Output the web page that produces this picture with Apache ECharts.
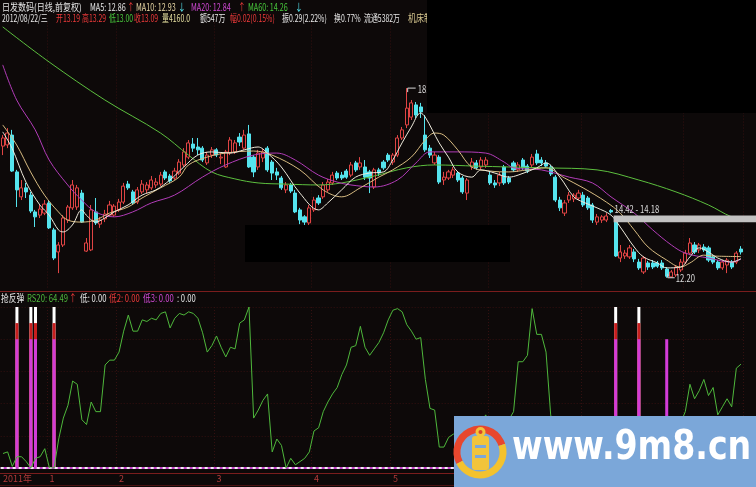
<!DOCTYPE html>
<html><head><meta charset="utf-8">
<script src="https://cdn.jsdelivr.net/npm/echarts@6/dist/echarts.min.js"></script>
<style>html,body{margin:0;padding:0;background:#0d0909;overflow:hidden}#c{width:756px;height:487px}</style>
</head><body><div id="c"></div>
<script>
// ---- candles: [open, close, low, high] ----
const candles = [
[16.74,17.02,16.43,17.12],[16.78,17.19,16.67,17.36],[17.12,15.88,15.85,17.30],[15.85,15.23,14.64,15.92],[14.99,15.30,14.88,15.57],
[15.30,15.16,14.95,15.47],[15.05,14.50,14.43,15.16],[14.47,14.30,13.95,14.54],[14.36,14.57,14.26,14.71],[14.43,14.74,14.36,14.88],
[14.78,13.92,13.88,14.88],[13.85,12.88,12.81,13.92],[13.09,13.33,12.36,13.43],[13.33,14.26,13.26,14.36],[14.19,14.64,14.09,14.71],
[14.61,15.40,14.54,15.57],[14.64,15.30,14.54,15.40],[15.12,14.12,14.09,15.23],[13.12,13.40,13.09,13.57],[13.16,14.54,13.12,14.71],
[14.47,14.09,14.02,14.95],[14.05,14.19,13.92,14.30],[14.23,14.40,14.12,14.54],[14.36,14.71,14.30,14.85],[14.36,14.67,14.30,14.74],
[14.54,14.81,14.47,14.92],[14.81,15.36,14.74,15.47],[15.43,15.30,15.23,15.54],[15.16,14.78,14.71,15.23],[14.81,15.23,14.74,15.33],
[15.16,15.43,15.09,15.57],[15.23,15.40,15.12,15.50],[15.30,15.57,15.23,15.71],[15.40,15.50,15.30,15.64],[15.43,15.74,15.36,15.85],
[15.85,15.64,15.57,15.92],[15.71,15.54,15.47,15.78],[15.64,15.88,15.57,15.99],[15.81,16.19,15.74,16.29],[16.09,16.54,16.02,16.67],
[16.36,16.85,16.29,16.95],[16.81,16.67,16.54,17.02],[16.71,16.61,16.43,17.02],[16.67,16.26,16.19,16.74],[16.16,16.43,16.09,16.54],
[16.43,16.61,16.33,16.71],[16.61,16.43,16.36,16.67],[16.33,16.36,16.12,16.50],[16.02,16.54,15.99,16.61],[16.50,16.95,16.43,17.05],
[16.54,16.85,16.47,16.95],[17.05,16.88,16.74,17.19],[16.67,17.12,16.61,17.30],[17.16,16.02,15.99,17.47],[16.36,15.85,15.67,16.43],
[16.02,16.50,15.92,16.61],[16.33,16.54,16.19,16.64],[16.67,15.92,15.85,16.74],[16.19,15.81,15.57,16.26],[15.85,15.74,15.57,15.99],
[15.64,15.30,15.23,15.71],[15.23,15.40,15.12,15.50],[15.40,15.19,15.12,15.47],[15.12,14.47,14.43,15.23],[14.54,14.19,14.05,14.61],
[14.30,14.12,14.02,14.36],[14.09,14.61,13.99,14.71],[14.54,14.88,14.47,14.99],[14.95,14.78,14.71,15.05],[14.99,15.40,14.92,15.50],
[15.23,15.50,15.16,15.61],[15.47,15.74,15.40,15.85],[15.81,15.64,15.57,15.88],[15.74,15.64,15.57,15.85],[15.88,15.67,15.61,15.95],
[15.74,16.09,15.67,16.19],[16.16,15.92,15.85,16.23],[16.02,16.16,15.92,16.36],[16.02,15.67,15.57,16.26],[15.85,15.64,15.12,15.92],
[15.33,15.92,15.26,15.99],[15.92,15.81,15.71,15.99],[16.19,15.99,15.92,16.26],[16.43,16.26,16.19,16.50],[16.19,16.43,16.09,16.50],
[16.43,17.02,16.36,17.12],[17.02,17.30,16.95,17.40],[17.47,18.05,17.36,18.74],[17.74,18.23,17.64,18.33],[18.16,17.81,17.71,18.26],
[18.09,17.92,17.71,18.23],[17.12,16.61,16.54,17.81],[16.67,16.43,16.33,16.78],[16.16,16.43,16.09,16.54],[16.36,15.50,15.43,16.43],
[15.57,15.67,15.40,15.85],[15.64,15.85,15.57,15.92],[15.74,15.92,15.64,16.02],[15.81,15.57,15.50,15.88],[15.64,15.16,15.09,15.71],
[15.12,15.57,14.88,15.64],[16.02,16.19,15.92,16.33],[16.16,15.99,15.92,16.26],[16.02,16.26,15.92,16.36],[16.09,16.26,15.99,16.36],
[15.74,15.47,15.40,15.85],[15.47,15.40,15.30,15.57],[15.47,15.74,15.36,15.85],[16.02,15.47,15.40,16.09],[15.64,15.50,15.43,15.71],
[16.16,15.92,15.85,16.23],[15.92,16.09,15.85,16.19],[16.26,15.99,15.92,16.33],[16.05,15.88,15.81,16.12],[16.09,16.36,16.02,16.47],
[16.47,16.16,16.09,16.61],[16.26,16.16,16.05,16.36],[16.16,16.05,15.99,16.26],[16.02,15.78,15.71,16.09],[15.67,14.88,14.81,15.74],
[14.88,14.61,14.50,14.99],[14.43,14.78,14.33,14.88],[14.88,15.05,14.78,15.16],[14.92,15.05,14.81,15.12],[14.95,15.12,14.88,15.23],
[15.05,14.71,14.64,15.16],[14.95,14.61,14.54,15.02],[14.71,14.19,14.09,14.78],[14.12,14.30,14.02,14.40],[14.19,14.30,14.09,14.36],
[14.19,14.33,14.12,14.43],[14.52,14.47,14.42,14.57],[14.12,12.95,12.92,14.18],[12.88,13.09,12.74,13.33],[12.95,13.05,12.85,13.16],
[12.92,13.23,12.85,13.33],[13.09,12.85,12.74,13.19],[12.74,12.54,12.47,12.85],[12.40,12.88,12.33,12.95],[12.71,12.57,12.47,12.78],
[12.71,12.57,12.50,12.81],[12.71,12.60,12.54,12.78],[12.71,12.54,12.47,12.81],[12.50,12.25,12.20,12.57],[12.23,12.40,12.22,12.47],
[12.30,12.57,12.23,12.64],[12.47,12.74,12.40,12.85],[12.74,13.05,12.67,13.16],[13.05,13.40,12.98,13.57],[13.33,13.09,13.02,13.43],
[13.16,13.33,13.05,13.40],[13.26,13.16,13.09,13.36],[13.23,12.81,12.74,13.30],[12.92,12.74,12.67,12.98],[12.74,12.54,12.47,12.81],
[12.54,12.74,12.47,12.81],[12.64,12.81,12.36,12.88],[12.74,12.57,12.50,12.81],[12.74,13.05,12.67,13.12],[13.19,13.09,13.00,13.29]
];

// ---- moving averages: [dayIndex, value] ----
const ma5Pts = [[0,17.23],[2,16.67],[5,15.50],[8,14.71],[10,14.36],[12,13.85],[13,13.78],[15,14.02],[17,14.54],[18,14.36],[20,14.12],[22,14.26],[24,14.47],[27,14.71],[30,15.05],[33,15.23],[36,15.57],[39,16.02],[42,16.43],[45,16.54],[49,16.50],[52,16.61],[55,16.71],[57,16.50],[60,16.02],[64,15.12],[68,14.54],[70,14.78],[73,15.23],[76,15.67],[79,15.81],[82,15.85],[84,16.26],[86,16.85],[88,17.40],[90,17.88],[91,17.74],[94,16.85],[96,16.36],[98,15.85],[101,15.67],[103,15.92],[106,15.81],[109,15.67],[111,15.74],[115,15.99],[117,16.16],[120,15.67],[123,14.99],[125,14.81],[128,14.61],[131,14.36],[133,13.95],[136,13.26],[138,12.92],[141,12.71],[143,12.54],[146,12.57],[148,12.92],[150,13.23],[152,13.09],[154,12.88],[157,12.74],[159,12.86]];
const ma10Pts = [[0,17.47],[3,16.78],[6,15.85],[9,15.05],[12,14.47],[14,14.19],[17,14.12],[20,14.19],[23,14.43],[27,14.64],[30,14.95],[34,15.30],[38,15.67],[40,16.09],[44,16.36],[48,16.50],[54,16.57],[58,16.43],[64,15.92],[69,15.23],[73,14.99],[77,15.30],[81,15.67],[84,15.92],[88,16.36],[91,16.95],[93,17.19],[95,17.12],[98,16.61],[101,16.02],[105,15.88],[109,15.85],[113,15.92],[117,15.99],[121,15.64],[125,15.30],[130,14.81],[133,14.43],[136,13.85],[139,13.26],[143,12.81],[146,12.57],[148,12.71],[151,12.98],[153,12.95],[159,12.93]];
const ma20Pts = [[0,19.54],[3,18.33],[7,17.30],[10,16.26],[14,15.40],[17,14.88],[20,14.47],[24,14.30],[28,14.47],[32,14.78],[37,15.05],[43,15.67],[48,16.09],[54,16.43],[59,16.50],[63,16.26],[68,15.74],[72,15.50],[75,15.40],[80,15.33],[85,15.57],[89,16.16],[92,16.54],[98,16.54],[104,16.50],[108,16.19],[110,15.99],[116,15.92],[122,15.67],[127,15.47],[131,14.99],[136,14.43],[140,13.85],[144,13.33],[147,13.05],[152,12.88],[157,12.74],[159,12.84]];
const ma60Pts = [[0,20.85],[10,19.64],[22,18.33],[34,17.19],[40,16.43],[45,15.85],[50,15.61],[55,15.47],[61,15.43],[68,15.40],[73,15.47],[80,15.71],[87,15.99],[93,16.09],[102,16.05],[109,16.02],[117,15.99],[128,15.92],[137,15.57],[145,15.16],[152,14.71],[157,14.30],[159,14.26]];

// ---- lower indicator RS20 (one value per day) ----
const rs20 = [
9,10,1,7,7,4,0,6,7,12,
0,0,18,31,39,54,52,30,27,41,
35,35,64,67,67,72,85,95,85,85,
92,91,93,92,96,97,87,93,96,95,
97,96,93,84,72,76,82,75,69,75,
74,90,92,100,31,36,42,46,10,18,
14,0,6,2,4,6,10,23,25,35,
41,46,50,58,64,75,76,88,75,70,
74,78,84,92,98,99,97,89,85,80,
81,55,37,36,13,13,19,21,22,18,
20,22,25,28,33,25,20,22,26,30,
35,66,66,70,99,83,83,72,33,20,
12,18,22,25,28,20,15,8,10,12,
14,10,0,5,6,10,4,0,8,5,
6,4,3,0,6,15,28,35,52,43,
48,55,45,50,33,38,43,38,62,64.49
];
// signal sticks: [dayIndex, level]
const low1Bars = [[3,100],[6,100],[7,100],[11,100],[132,100],[137,100]];
const low2Bars = [[3,90],[6,90],[7,90],[11,90],[132,90],[137,90]];
const low3Bars = [[3,80],[6,80],[7,80],[11,80],[132,80],[137,80],[143,80]];

// ---- month tick labels [dayIndex, label] ----
const monthTicks = [[0,'2011年'],[10,'1'],[25,'2'],[46,'3'],[67,'4'],[84,'5'],[105,'6'],[125,'7'],[147,'8']];

const categories = candles.map((_, i) => String(i));
const tickLabel = {}; monthTicks.forEach(t => tickLabel[t[0]] = t[1]);

const BG = '#0d0909';
const GRID_L = 0.4, GRID_R = 12.7;
const splitStyle = {color:'#331010', type:[1,2], width:1};

const chart = echarts.init(document.getElementById('c'), null, {renderer:'canvas'});
const option = {
  backgroundColor: BG,
  animation: false,
  grid: [
    {left: GRID_L, right: GRID_R, top: 22.56, height: 266.8},
    {left: GRID_L, right: GRID_R, top: 307, height: 161}
  ],
  xAxis: [
    {type:'category', gridIndex:0, data:categories, boundaryGap:true,
     axisLine:{show:false}, axisTick:{show:false}, axisLabel:{show:false},
     splitLine:{show:true, interval:(i)=> i>0 && tickLabel[i]!==undefined, lineStyle:splitStyle}},
    {type:'category', gridIndex:1, data:categories, boundaryGap:true,
     axisLine:{show:false}, axisTick:{show:false},
     axisLabel:{show:true, interval:(i)=> tickLabel[i]!==undefined, formatter:(v,i)=> tickLabel[i]||'',
       color:'#b03a3a', fontSize:9, fontFamily:'"Noto Sans CJK SC"', align:'left', margin:6},
     splitLine:{show:true, interval:(i)=> i>0 && tickLabel[i]!==undefined, lineStyle:splitStyle}}
  ],
  yAxis: [
    {type:'value', gridIndex:0, min:11.8, max:21, show:false, splitLine:{show:false}},
    {type:'value', gridIndex:1, min:0, max:100, interval:20,
     axisLine:{show:false}, axisTick:{show:false}, axisLabel:{show:false},
     splitLine:{show:true, lineStyle:splitStyle}}
  ],
  series: [
    {type:'candlestick', xAxisIndex:0, yAxisIndex:0, data:candles, barWidth:3.6, z:2,
     itemStyle:{color:BG, color0:'#55e4ee', borderColor:'#e04444', borderColor0:'#55e4ee', borderWidth:1}},
    {type:'line', name:'MA60', xAxisIndex:0, yAxisIndex:0, data:ma60Pts, symbol:'none', smooth:0.35, z:3,
     lineStyle:{color:'#5cbf3e', width:1}},
    {type:'line', name:'MA20', xAxisIndex:0, yAxisIndex:0, data:ma20Pts, symbol:'none', smooth:0.35, z:3,
     lineStyle:{color:'#b23cb8', width:1}},
    {type:'line', name:'MA10', xAxisIndex:0, yAxisIndex:0, data:ma10Pts, symbol:'none', smooth:0.35, z:3,
     lineStyle:{color:'#d8bc82', width:1}},
    {type:'line', name:'MA5', xAxisIndex:0, yAxisIndex:0, data:ma5Pts, symbol:'none', smooth:0.35, z:3,
     lineStyle:{color:'#eeeadc', width:1}},
    {type:'bar', name:'低', xAxisIndex:1, yAxisIndex:1, data:low1Bars, barWidth:3, barGap:'-100%', z:2,
     itemStyle:{color:'#ffffff'}},
    {type:'bar', name:'低2', xAxisIndex:1, yAxisIndex:1, data:low2Bars, barWidth:3, barGap:'-100%', z:3,
     itemStyle:{color:'#c81e1e'}},
    {type:'bar', name:'低3', xAxisIndex:1, yAxisIndex:1, data:low3Bars, barWidth:3, barGap:'-100%', z:4,
     itemStyle:{color:'#d23cd8'}},
    {type:'line', name:'RS20', xAxisIndex:1, yAxisIndex:1, data:rs20, symbol:'none', z:5,
     lineStyle:{color:'#4fb83c', width:1},
     markLine:{silent:true, symbol:'none', label:{show:false},
       data:[
         {yAxis:0, lineStyle:{color:'#c040c8', width:2, type:'solid'}},
         {yAxis:0, lineStyle:{color:'#f4f0f4', width:2, type:[3,3]}}
       ]}}
  ]
};
chart.setOption(option);

// ---------- overlays ----------
const FONT = '"Noto Sans CJK SC"';
function T(text, x, y, color, size, extra) {
  return Object.assign({type:'text', x:x, y:y, scaleX:0.77, z:60,
    style:{text:text, x:0, y:0, fill:color, font:size+'px '+FONT, textAlign:'left', textVerticalAlign:'middle'}}, extra||{});
}
const W = '#e6e6e6', RED = '#ee3a3a', CY = '#55e4ee';
const R2 = {scaleX:0.69};
const g = [];
// panel separators
[[291.5,'#7a1d1d'],[473.5,'#7a1d1d'],[485.5,'#4a1212']].forEach(l => g.push({type:'line', z:40,
  shape:{x1:0,y1:l[0],x2:756,y2:l[0]}, style:{stroke:l[1], lineWidth:1}}));
// black masks
g.push({type:'rect', z:50, shape:{x:427,y:0,width:329,height:113}, style:{fill:'#000'}});
g.push({type:'rect', z:50, shape:{x:245,y:225,width:265,height:37}, style:{fill:'#000'}});

// header row 1
g.push(T('日发数码(日线,前复权)', 2, 7, W, 10, {scaleX:0.8}));
g.push(T('MA5: 12.86', 90, 7, W, 10, {scaleX:0.72}));
g.push(T('↑', 127, 7, RED, 10));
g.push(T('MA10: 12.93', 136, 7, '#ead9a6', 10, {scaleX:0.72}));
g.push(T('↓', 178, 7, CY, 10));
g.push(T('MA20: 12.84', 191, 7, '#d24ad6', 10, {scaleX:0.72}));
g.push(T('↑', 238, 7, RED, 10));
g.push(T('MA60: 14.26', 248, 7, '#48c83c', 10, {scaleX:0.72}));
g.push(T('↓', 295, 7, CY, 10));
// header row 2
g.push(T('2012/08/22/三', 2, 18, W, 10, R2));
g.push(T('开13.19', 56, 18, RED, 10, R2));
g.push(T('高13.29', 82, 18, RED, 10, R2));
g.push(T('低13.00', 109, 18, '#48c83c', 10, R2));
g.push(T('收13.09', 134, 18, RED, 10, R2));
g.push(T('量4160.0', 162, 18, '#e6e0a0', 10, R2));
g.push(T('额547万', 200, 18, W, 10, R2));
g.push(T('幅0.02(0.15%)', 230, 18, RED, 10, R2));
g.push(T('振0.29(2.22%)', 282, 18, W, 10, R2));
g.push(T('换0.77%', 334, 18, W, 10, R2));
g.push(T('流通5382万', 364, 18, W, 10, R2));
g.push(T('机床制造', 408, 18, '#d8c890', 10, {z:45, scaleX:0.8}));
// lower panel header
g.push(T('抢反弹', 1, 298, W, 10));
g.push(T('RS20: 64.49', 27, 298, '#4fb83c', 10));
g.push(T('↑', 69, 298, RED, 10));
g.push(T('低: 0.00', 80, 298, W, 10));
g.push(T('低2: 0.00', 109, 298, RED, 10));
g.push(T('低3: 0.00', 143, 298, '#d24ad6', 10));
g.push(T(': 0.00', 177, 298, W, 10));

// gap band (low of day before gap .. high of gap day)
const gapDay = 132;
const bTop = chart.convertToPixel({gridIndex:0}, [gapDay, candles[gapDay-1][2]]);
const bBot = chart.convertToPixel({gridIndex:0}, [gapDay, candles[gapDay][3]]);
g.push({type:'rect', z:45, shape:{x:bTop[0]-2, y:bTop[1]+2, width:756-bTop[0]+2, height:bBot[1]-bTop[1]}, style:{fill:'#c2c2c2'}});
g.push(T(candles[gapDay-1][2].toFixed(2)+' - '+candles[gapDay][3].toFixed(2), bTop[0]-1, bTop[1]-4, '#dcdcdc', 10));

// high / low markers
let hiIdx = 0, loIdx = 0;
candles.forEach((c,i) => { if (c[3] > candles[hiIdx][3]) hiIdx = i; if (c[2] < candles[loIdx][2]) loIdx = i; });
const ph = chart.convertToPixel({gridIndex:0}, [hiIdx, candles[hiIdx][3]]);
g.push({type:'polyline', z:46, shape:{points:[[ph[0]+1,ph[1]+4],[ph[0]+1,ph[1]],[ph[0]+9,ph[1]]]}, style:{stroke:'#d8d8d8', lineWidth:1, fill:null}});
g.push(T(candles[hiIdx][3].toFixed(2), ph[0]+11, ph[1]+1, '#dcdcdc', 10, {z:46}));
const pl = chart.convertToPixel({gridIndex:0}, [loIdx, candles[loIdx][2]]);
g.push({type:'polyline', z:46, shape:{points:[[pl[0]+1,pl[1]-4],[pl[0]+1,pl[1]],[pl[0]+8,pl[1]]]}, style:{stroke:'#d8d8d8', lineWidth:1, fill:null}});
g.push(T(candles[loIdx][2].toFixed(2), pl[0]+9, pl[1], '#dcdcdc', 10, {z:46}));

// watermark
g.push({type:'rect', z:80, shape:{x:454,y:416,width:302,height:71}, style:{fill:'#7ba7d9'}});
g.push({type:'arc', z:81, shape:{cx:480,cy:452,r:23,startAngle:Math.PI*0.85,endAngle:Math.PI*1.9,clockwise:true}, style:{stroke:'#e8472e', lineWidth:7, fill:null}});
g.push({type:'arc', z:81, shape:{cx:480,cy:452,r:23,startAngle:Math.PI*1.9,endAngle:Math.PI*2.85,clockwise:true}, style:{stroke:'#f4c22e', lineWidth:7, fill:null}});
g.push({type:'rect', z:82, shape:{x:472,y:436,width:17,height:34,r:3}, style:{fill:'#f2c43a'}});
g.push({type:'circle', z:83, shape:{cx:480.5,cy:432,r:5}, style:{fill:'#f2c43a'}});
g.push({type:'rect', z:83, shape:{x:475,y:445,width:11,height:3}, style:{fill:'#7ba7d9'}});
g.push({type:'rect', z:83, shape:{x:475,y:455,width:11,height:3}, style:{fill:'#7ba7d9'}});
g.push({type:'circle', z:84, shape:{cx:480.5,cy:432,r:2}, style:{fill:'#d8452c'}});
g.push({type:'text', z:85, x:512, y:449, scaleX:0.83,
  style:{text:'www.9m8.cn', x:0, y:0, fill:'#ffffff', font:'bold 40px "DejaVu Sans"', textAlign:'left', textVerticalAlign:'middle'}});

chart.setOption({graphic: g});
</script>
</body></html>
